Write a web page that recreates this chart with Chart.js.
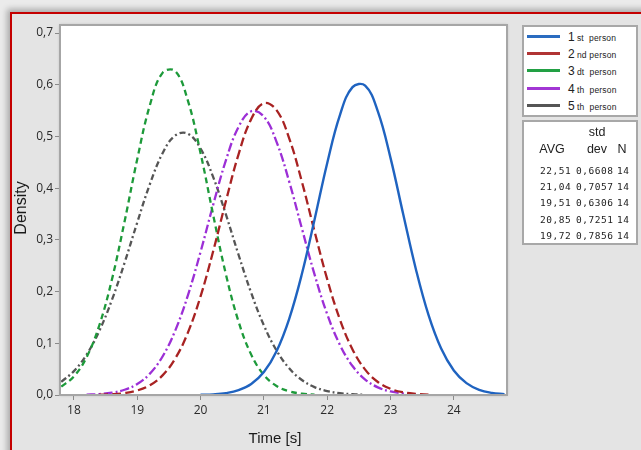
<!DOCTYPE html>
<html><head><meta charset="utf-8">
<script src="https://cdn.jsdelivr.net/npm/chart.js@4/dist/chart.umd.min.js"></script>
<style>
html,body{margin:0;padding:0;width:641px;height:450px;overflow:hidden;background:#ebebeb;}
#frame{position:absolute;left:10px;top:12px;width:700px;height:500px;background:#e4e4e4;border-left:2px solid #c40000;border-top:2px solid #c40000;box-shadow:-3px -3px 6px rgba(0,0,0,0.28);}
#c{position:absolute;left:0;top:0;}
.box{position:absolute;background:#fff;border:2px solid #a8a8a8;box-sizing:border-box;}
#legend{left:522px;top:25px;width:116px;height:92px;font-family:"Liberation Sans Narrow","Liberation Sans",Arial,sans-serif;color:#222;}
.lrow{position:absolute;left:0;width:100%;height:16px;}
.lline{position:absolute;left:3px;top:6px;width:33px;height:3px;}
.ltxt{position:absolute;left:44px;top:0;line-height:16px;white-space:nowrap;font-size:8.5px;letter-spacing:0.2px;}
.ltxt b{font-weight:normal;font-size:12px;margin-right:2px;}
#table{left:522px;top:120px;width:116px;height:125px;color:#222;}
.cell{position:absolute;white-space:nowrap;}
.hd{font-family:"Liberation Sans Narrow","Liberation Sans",Arial,sans-serif;font-size:12.5px;width:40px;text-align:center;}
.num{font-family:"DejaVu Sans Mono",monospace;font-size:9.5px;letter-spacing:0.55px;}
</style>
</head><body>
<div id="frame"></div>
<canvas id="c" width="641" height="450"></canvas>
<div id="legend" class="box"></div>
<div id="table" class="box"></div>
<script>
// ---- data ----
const time = [17.8,18.0,18.2,18.4,18.6,18.8,19.0,19.2,19.4,19.6,19.8,20.0,20.2,20.4,20.6,20.8,21.0,21.2,21.4,21.6,21.8,22.0,22.2,22.4,22.6,22.8,23.0,23.2,23.4,23.6,23.8,24.0,24.2,24.4,24.6,24.8];
const person1 = [null,null,null,null,null,null,null,null,null,null,null,0.0004,0.0013,0.0037,0.0093,0.0212,0.0443,0.0846,0.1473,0.2339,0.3390,0.4483,0.5408,0.5954,0.5982,0.5483,0.4586,0.3500,0.2437,0.1549,0.0898,0.0475,0.0229,0.0101,0.0041,0.0015];
const person2 = [null,null,null,0.0005,0.0014,0.0037,0.0087,0.0189,0.0380,0.0705,0.1207,0.1908,0.2784,0.3747,0.4654,0.5335,0.5644,0.5509,0.4963,0.4126,0.3166,0.2241,0.1464,0.0882,0.0491,0.0252,0.0120,0.0052,0.0021,0.0008,null,null,null,null,null,null];
const person3 = [0.0160,0.0360,0.0731,0.1344,0.2233,0.3357,0.4561,0.5606,0.6230,0.6262,0.5691,0.4677,0.3477,0.2336,0.1420,0.0781,0.0388,0.0174,0.0071,0.0026,0.0009,null,null,null,null,null,null,null,null,null,null,null,null,null,null,null];
const person4 = [null,null,0.0007,0.0018,0.0045,0.0101,0.0212,0.0413,0.0745,0.1245,0.1928,0.2767,0.3681,0.4537,0.5184,0.5488,0.5384,0.4896,0.4126,0.3222,0.2332,0.1564,0.0972,0.0560,0.0299,0.0148,0.0068,0.0029,0.0011,null,null,null,null,null,null,null];
const person5 = [0.0256,0.0462,0.0781,0.1238,0.1838,0.2558,0.3336,0.4079,0.4674,0.5019,0.5052,0.4766,0.4213,0.3491,0.2712,0.1974,0.1347,0.0861,0.0516,0.0290,0.0153,0.0075,0.0035,0.0015,0.0006,null,null,null,null,null,null,null,null,null,null,null];
const seriesNums = ["1","2","3","4","5"];
const seriesSuffix = ["st  person","nd person","dt  person","th  person","th  person"];
const avg = ["22,51","21,04","19,51","20,85","19,72"];
const stdDev = ["0,6608","0,7057","0,6306","0,7251","0,7856"];
const nCount = ["14","14","14","14","14"];
const xTicks = [18,19,20,21,22,23,24];
const yTicks = [0,0.1,0.2,0.3,0.4,0.5,0.6,0.7];
const xTitle = "Time [s]";
const yTitle = "Density";

// ---- styles ----
const colors = ["#1f63c0","#a82222","#1d9a3a","#9c2fd6","#555555"];
const legendColors = ["#2a6cc0","#b03434","#22a044","#a236d4","#555555"];
const dashes = [[],[9,4],[6,4],[9,3,2,3],[6,3,2,3]];
const values = [person1,person2,person3,person4,person5];

// legend html
const lg = document.getElementById('legend');
seriesNums.forEach((n,i)=>{
  const r = document.createElement('div'); r.className='lrow'; r.style.top=(2+17.2*i)+'px';
  r.innerHTML = '<div class="lline" style="background:'+legendColors[i]+'"></div><div class="ltxt"><b>'+n+'</b>'+seriesSuffix[i].replace(/  /g,'&nbsp; ')+'</div>';
  lg.appendChild(r);
});
// table html
const tb = document.getElementById('table');
function cell(txt,cls,x,y){const d=document.createElement('div');d.className='cell '+cls;d.style.left=x+'px';d.style.top=y+'px';d.textContent=txt;tb.appendChild(d);}
cell('std','hd',53,3);
cell('AVG','hd',8,20);
cell('dev','hd',53,20);
cell('N','hd',78,20);
avg.forEach((a,i)=>{
  const y = 43+16.2*i;
  cell(a,'num',16,y);
  cell(stdDev[i],'num',52,y);
  cell(nCount[i],'num',93,y);
});

const bgPlugin = {
  id:'bg',
  beforeDraw(chart){
    const {ctx, chartArea:a} = chart;
    ctx.save();
    ctx.shadowColor='rgba(0,0,0,0.25)'; ctx.shadowBlur=3;
    ctx.fillStyle='#ffffff';
    ctx.fillRect(a.left,a.top,a.right-a.left,a.bottom-a.top);
    ctx.restore();
  },
  afterDraw(chart){
    const {ctx, chartArea:a} = chart;
    ctx.save();
    ctx.strokeStyle='#a6a6a6'; ctx.lineWidth=2;
    ctx.strokeRect(a.left,a.top,a.right-a.left,a.bottom-a.top);
    ctx.fillStyle='#1a1a1a';
    ctx.textAlign='center'; ctx.textBaseline='middle';
    ctx.font='15px "Liberation Sans", Arial, sans-serif';
    ctx.fillText(xTitle, a.left+215, a.bottom+44);
    ctx.translate(22,(a.top+a.bottom)/2-2);
    ctx.rotate(-Math.PI/2);
    ctx.font='16px "Liberation Sans", Arial, sans-serif';
    ctx.fillText(yTitle,0,0);
    ctx.restore();
  }
};

const tickFont = {family:'"Open Sans", "DejaVu Sans", sans-serif', size:12};
new Chart(document.getElementById('c'), {
  type:'line',
  data:{datasets: values.map((v,i)=>({
    label: seriesNums[i]+' '+seriesSuffix[i],
    data: time.map((t,k)=>({x:t,y:v[k]})).filter(p=>p.y!==null),
    borderColor: colors[i], borderWidth: i===0?2.4:2.3, borderDash: dashes[i],
    pointRadius:0, tension:0.4, fill:false, cubicInterpolationMode:'default'
  }))},
  options:{
    responsive:false, animation:false, events:[],
    layout:{padding:{left:0,top:25,right:134,bottom:0}},
    plugins:{legend:{display:false}, tooltip:{enabled:false}},
    scales:{
      x:{type:'linear', min:17.78, max:24.84,
        afterBuildTicks: sc=>{ sc.ticks = xTicks.map(v=>({value:v})); },
        afterFit: sc=>{ sc.height = 55; },
        grid:{drawOnChartArea:false, drawTicks:true, tickLength:5, color:'#8a8a8a'},
        border:{display:false},
        ticks:{font:tickFont, color:'#2a2a2a', padding:3, maxRotation:0, autoSkip:false, callback:v=>String(v)}
      },
      y:{type:'linear', min:0, max:0.7155,
        afterBuildTicks: sc=>{ sc.ticks = yTicks.map(v=>({value:v})); },
        afterFit: sc=>{ sc.width = 60; },
        grid:{drawOnChartArea:false, drawTicks:true, tickLength:5, color:'#8a8a8a'},
        border:{display:false},
        ticks:{font:tickFont, color:'#2a2a2a', padding:2, autoSkip:false, callback:v=>Number(v).toFixed(1).replace('.',',')}
      }
    }
  },
  plugins:[bgPlugin]
});
</script>
</body></html>
